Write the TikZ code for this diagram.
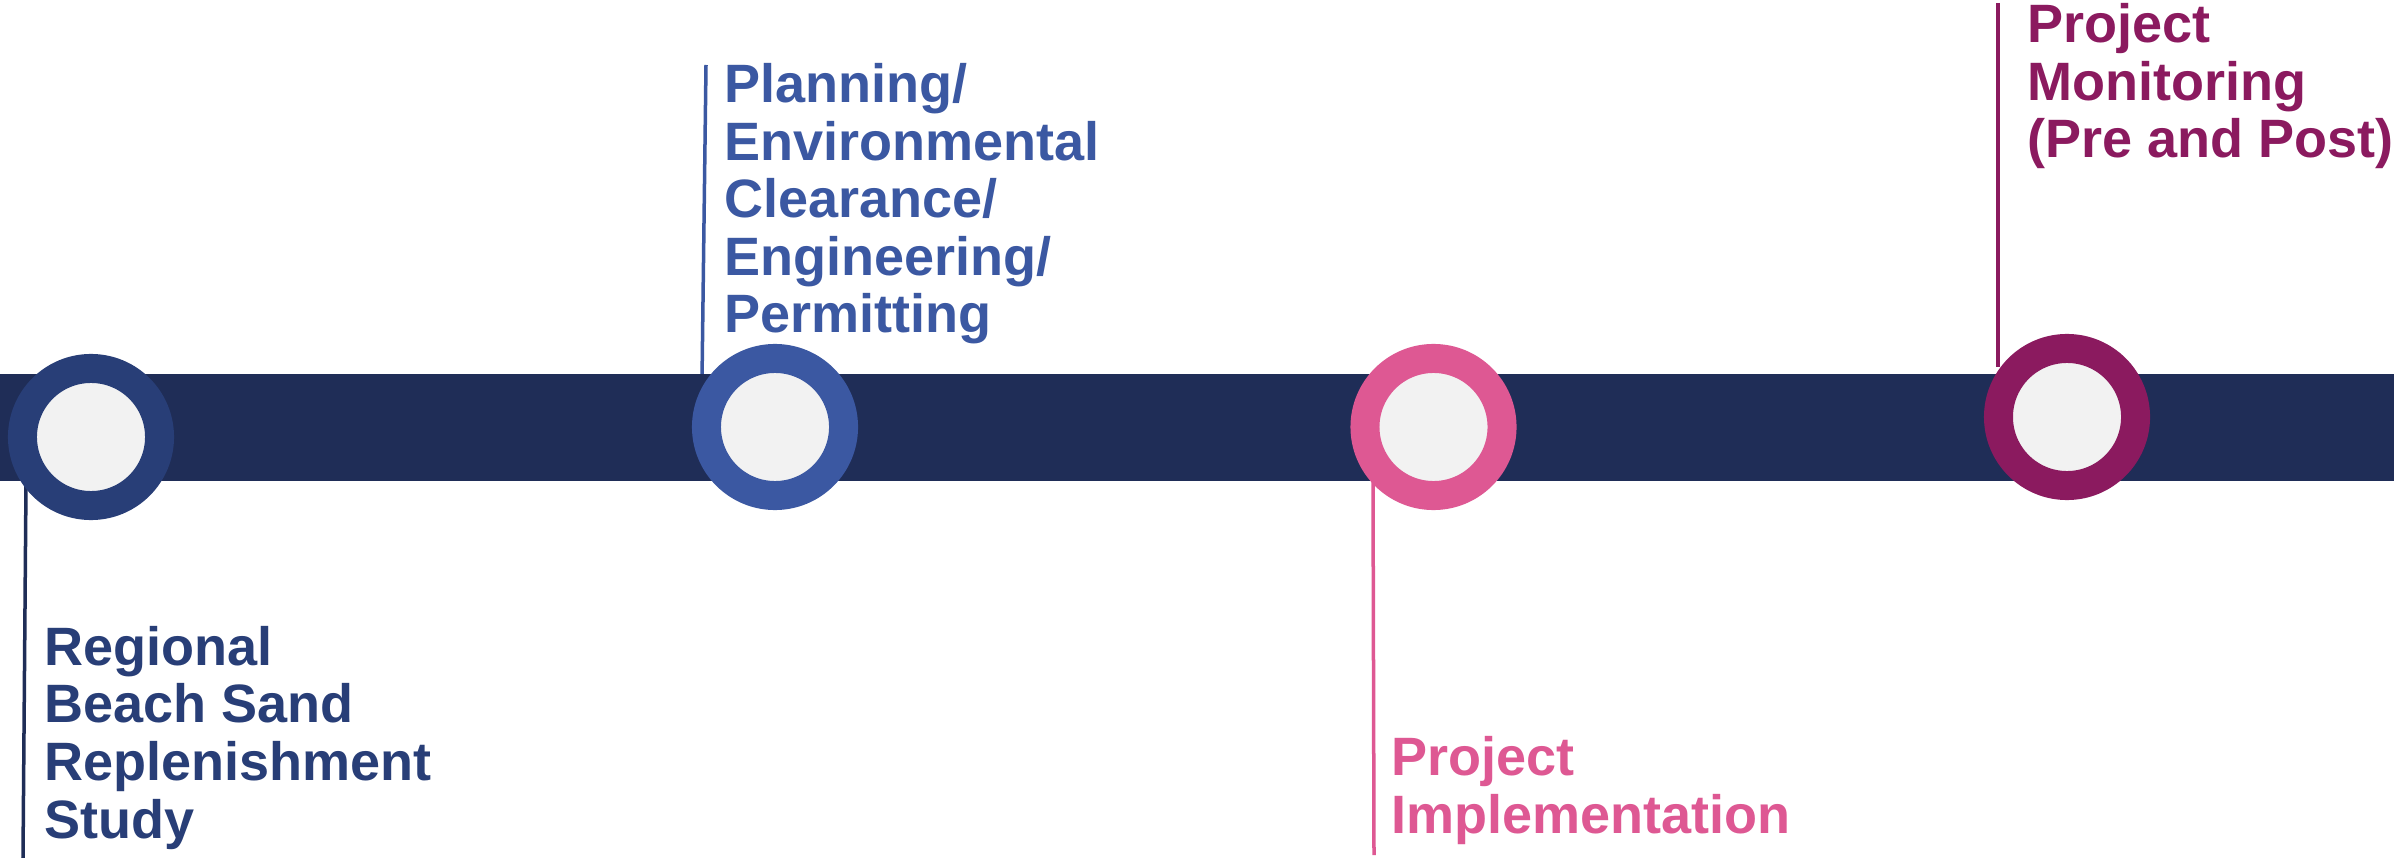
\documentclass[tikz,border=0pt]{standalone}
\usepackage{fontspec}
\setmainfont{Liberation Sans}
\definecolor{barc}{HTML}{1F2D57}
\definecolor{cone}{HTML}{283E77}
\definecolor{ctwo}{HTML}{3B58A2}
\definecolor{cthree}{HTML}{DE5893}
\definecolor{cfour}{HTML}{8B1A5F}
\definecolor{inner}{HTML}{F2F2F2}
\begin{document}
\begin{tikzpicture}[x=0.01cm,y=-0.01cm,
  milestone/.style={circle, draw=#1, line width=0.29cm, fill=inner, minimum size=1.37cm, inner sep=0pt},
  phase/.style={text=#1, anchor=base west, align=left, inner sep=0pt,
    font=\fontsize{15.36}{16.36}\selectfont\bfseries},
  leader/.style={draw=#1, line width=0.035cm}]
\useasboundingbox (0,0) rectangle (2394,858);
\fill[white] (0,0) rectangle (2394,858);
% leader line ends
\coordinate (a1) at (26,484);  \coordinate (b1) at (23,858);
\coordinate (a2) at (706,65);  \coordinate (b2) at (702,380);
\coordinate (a3) at (1373,480); \coordinate (b3) at (1374,855);
\coordinate (a4) at (1998,3);  \coordinate (b4) at (1998,367);
\draw[leader=barc] (a1) -- (b1);
\draw[leader=ctwo] (a2) -- (b2);
\draw[leader=cthree] (a3) -- (b3);
\draw[leader=cfour] (a4) -- (b4);
% bar
\fill[barc] (0,374) rectangle (2394,481);
% milestones
\node[milestone=cone] (m1) at (91,437) {};
\node[milestone=ctwo] (m2) at (775,427) {};
\node[milestone=cthree] (m3) at (1433.5,427) {};
\node[milestone=cfour] (m4) at (2067,417) {};
% labels (anchored at the baseline of the last line)
\node[phase=cone] (t1) at (44,838) {Regional\\Beach Sand\\Replenishment\\Study};
\node[phase=ctwo] (t2) at (724,333) {Planning/\\Environmental\\Clearance/\\Engineering/\\Permitting};
\node[phase=cthree] (t3) at (1391,833) {Project\\Implementation};
\node[phase=cfour] (t4) at (2027,158) {Project\\Monitoring\\(Pre and Post)};
\end{tikzpicture}
\end{document}
